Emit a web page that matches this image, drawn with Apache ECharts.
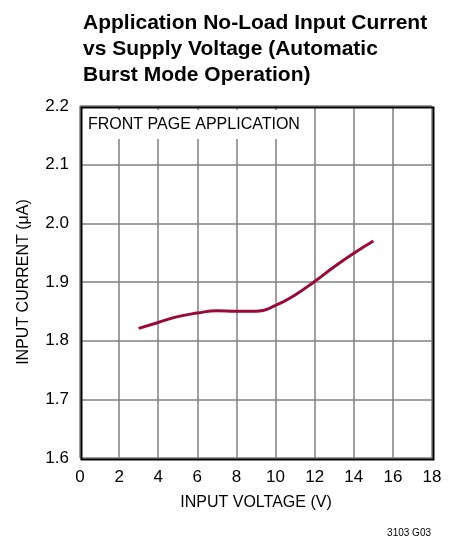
<!DOCTYPE html>
<html>
<head>
<meta charset="utf-8">
<script src="https://cdn.jsdelivr.net/npm/echarts@6/dist/echarts.min.js"></script>
<style>
  html, body { margin: 0; padding: 0; background: #fff; }
  #chart { width: 455px; height: 543px; }
</style>
</head>
<body>
<div id="chart"></div>
<script>
// 数据
const voltage = [3, 4, 5, 6, 7, 8, 9, 10, 11, 12, 13, 14, 15];
const current = [1.821, 1.831, 1.841, 1.847, 1.851, 1.850, 1.850, 1.860, 1.878, 1.901, 1.926, 1.949, 1.970];
const titleLines = ["Application No-Load Input Current", "vs Supply Voltage (Automatic", "Burst Mode Operation)"];
const noteText = "FRONT PAGE APPLICATION";
const partCode = "3103 G03";

const FONT = "'Liberation Sans', Arial, sans-serif";

const myChart = echarts.init(document.getElementById("chart"));
const option = {
  animation: false,
  title: {
    text: titleLines.join("\n"),
    left: 78,
    top: 5,
    textStyle: {
      fontFamily: FONT,
      fontWeight: "bold",
      fontSize: 21,
      lineHeight: 26,
      color: "#000",
    },
  },
  grid: {
    left: 80,
    top: 106,
    right: 23,
    bottom: 85,
  },
  xAxis: {
    type: "value",
    min: 0,
    max: 18,
    interval: 2,
    name: "INPUT VOLTAGE (V)",
    nameLocation: "middle",
    nameGap: 37,
    nameTextStyle: { fontFamily: FONT, fontSize: 16, color: "#000" },
    axisLine: { show: false },
    axisTick: { show: false },
    axisLabel: { fontFamily: FONT, fontSize: 17, color: "#000", margin: 11 },
    splitLine: { show: true, lineStyle: { color: "#808080", width: 1.5 } },
  },
  yAxis: {
    type: "value",
    min: 1.6,
    max: 2.2,
    interval: 0.1,
    name: "INPUT CURRENT (μA)",
    nameLocation: "middle",
    nameGap: 48,
    nameTextStyle: { fontFamily: FONT, fontSize: 16, color: "#000" },
    axisLine: { show: false },
    axisTick: { show: false },
    axisLabel: {
      fontFamily: FONT,
      fontSize: 17,
      color: "#000",
      margin: 11,
      formatter: (v) => v.toFixed(1),
    },
    splitLine: { show: true, lineStyle: { color: "#808080", width: 1.5 } },
  },
  graphic: [
    {
      // 外框
      type: "rect",
      left: 79,
      top: 105,
      shape: { width: 352, height: 352 },
      style: { fill: "none", stroke: "#000", lineWidth: 2 },
      z: 30,
    },
    {
      type: "rect",
      left: 81,
      top: 110,
      shape: { width: 220, height: 29 },
      style: { fill: "#fff" },
      z: 10,
    },
    {
      type: "text",
      left: 88,
      top: 117,
      style: { text: noteText, font: "16px " + FONT, fill: "#000" },
      z: 11,
    },
    {
      type: "text",
      right: 24,
      top: 528,
      style: { text: partCode, font: "10px " + FONT, fill: "#000" },
    },
  ],
  series: [
    {
      type: "line",
      smooth: true,
      showSymbol: false,
      data: voltage.map((v, i) => [v, current[i]]),
      lineStyle: { color: "#9a0a36", width: 3 },
      z: 20,
    },
  ],
};
// 绘制图表
myChart.setOption(option);
</script>
</body>
</html>
